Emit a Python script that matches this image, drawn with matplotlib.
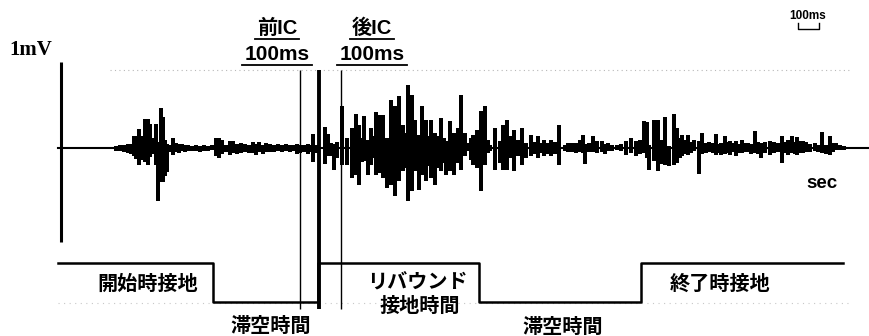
import numpy as np
import matplotlib
matplotlib.use("Agg")
import matplotlib.pyplot as plt

plt.rcParams['font.family'] = ['Liberation Sans', 'Noto Sans CJK JP', 'DejaVu Sans']

# EMG spikes: position, extent above baseline, extent below baseline (screen px)
spike_x = [102, 108, 116, 120, 124, 128, 131, 134, 136, 139, 142, 145, 148, 150, 153, 156, 158, 161, 163, 165,
           167, 170, 173, 176, 179, 182, 185, 188, 192, 196, 200, 204, 208, 212, 216, 219, 222, 226, 230, 233,
           237, 241, 245, 249, 253, 256, 259, 263, 266, 270, 274, 278, 282, 286, 290, 294, 297, 300, 304, 308,
           311, 313, 316, 325, 328, 331, 334, 337, 342, 347, 352, 356, 359, 362, 364, 368, 371, 374, 376, 380,
           383, 387, 391, 395, 399, 403, 406, 408, 412, 415, 419, 422, 426, 429, 431, 435, 438, 441, 444, 446,
           450, 454, 458, 461, 465, 468, 471, 473, 477, 481, 485, 488, 490, 495, 500, 503, 507, 510, 514, 518,
           522, 526, 531, 534, 538, 541, 544, 548, 551, 555, 559, 565, 568, 572, 576, 580, 583, 585, 589, 593,
           597, 602, 605, 608, 612, 617, 621, 626, 631, 636, 640, 644, 647, 649, 654, 658, 661, 663, 665, 669,
           674, 677, 680, 682, 685, 688, 691, 694, 699, 702, 706, 709, 713, 716, 719, 721, 725, 728, 730, 733,
           736, 739, 742, 745, 748, 751, 755, 758, 761, 765, 770, 774, 778, 782, 785, 788, 792, 795, 797, 800,
           803, 806, 810, 815, 818, 822, 826, 830, 833, 836, 840, 844]
spike_up = [1, 1, 2, 3, 3, 4, 4, 12, 12, 19, 12, 29, 29, 24, 10, 24, 6, 40, 31, 8,
            4, 3, 10, 5, 4, 4, 3, 3, 2, 3, 2, 3, 2, 3, 10, 10, 8, 3, 7, 7,
            4, 5, 4, 3, 6, 4, 6, 3, 5, 4, 3, 4, 3, 4, 3, 3, 4, 3, 3, 4,
            3, 14, 3, 21, 14, 5, 4, 6, 42, 10, 20, 34, 23, 10, 32, 8, 20, 12, 36, 33,
            33, 10, 48, 42, 52, 23, 15, 63, 53, 28, 13, 42, 28, 12, 28, 15, 12, 30, 10, 7,
            27, 15, 20, 53, 15, 5, 10, 13, 18, 37, 42, 8, 3, 20, 7, 23, 28, 12, 18, 8,
            20, 5, 13, 6, 12, 5, 8, 5, 8, 6, 23, 3, 5, 5, 5, 8, 13, 4, 5, 12,
            7, 7, 4, 5, 3, 3, 4, 7, 10, 7, 8, 27, 26, 3, 28, 28, 8, 1, 31, 2,
            34, 20, 10, 13, 8, 13, 6, 8, 7, 15, 5, 6, 5, 14, 4, 5, 12, 6, 7, 5,
            7, 4, 8, 5, 5, 4, 17, 6, 5, 6, 7, 6, 5, 12, 6, 8, 12, 6, 11, 7,
            7, 6, 4, 5, 3, 16, 3, 12, 5, 5, 3, 2]
spike_dn = [1, 1, 3, 3, 4, 5, 6, 8, 11, 17, 12, 14, 17, 9, 6, 17, 53, 34, 34, 28,
            24, 4, 7, 4, 5, 3, 4, 3, 3, 3, 4, 3, 3, 2, 8, 10, 6, 4, 7, 5,
            6, 5, 4, 5, 5, 7, 4, 6, 4, 4, 4, 3, 4, 3, 4, 3, 6, 5, 4, 6,
            4, 14, 5, 16, 8, 8, 22, 10, 17, 17, 30, 27, 37, 14, 13, 27, 17, 10, 27, 25,
            30, 40, 37, 48, 33, 23, 20, 53, 43, 23, 42, 27, 33, 18, 30, 37, 20, 23, 15, 27,
            23, 27, 15, 22, 8, 3, 12, 17, 20, 43, 17, 5, 3, 22, 15, 22, 22, 10, 23, 8,
            17, 10, 8, 6, 10, 5, 8, 6, 8, 6, 17, 3, 4, 4, 5, 4, 5, 16, 4, 4,
            5, 4, 6, 3, 3, 2, 3, 7, 5, 8, 6, 5, 10, 22, 13, 23, 16, 13, 17, 18,
            17, 15, 10, 8, 6, 7, 5, 3, 26, 6, 5, 4, 5, 7, 5, 7, 6, 5, 7, 4,
            8, 5, 5, 4, 4, 6, 5, 6, 10, 5, 7, 5, 4, 15, 5, 7, 5, 6, 7, 5,
            5, 4, 4, 3, 4, 5, 6, 7, 4, 2, 2, 2]

# foot switch: transition positions and contact state (1 = ground contact)
switch_x = [58, 213, 318, 479, 641, 843]
switch_state = [1, 0, 1, 0, 1, 1]

# event markers: pre-IC window start, initial contact, post-IC window end
marker_x = [300, 319, 341]
marker_lw = [1.0, 2.8, 1.0]

baseline = 148
high_y, low_y = 263, 302

fig = plt.figure(figsize=(8.7, 3.36), dpi=100)
ax = fig.add_axes([0, 0, 1, 1])
ax.set_xlim(0, 870)
ax.set_ylim(336, 0)
ax.axis('off')

# faint dotted guide lines
ax.plot([110, 852], [70, 70], color='#b8b8b8', lw=0.8, ls=(0, (1, 3)))
ax.plot([58, 852], [303, 303], color='#c8c8c8', lw=0.8, ls=(0, (1, 4)))

# EMG trace
ax.plot([58, 870], [baseline, baseline], color='black', lw=1.5)
sx = np.array(spike_x)
su = np.array(spike_up)
sd = np.array(spike_dn)
ax.bar(sx, su + sd, bottom=baseline - su, width=3.6, color='black', linewidth=0)

# 1 mV scale bar
ax.plot([61, 61], [62, 242], color='black', lw=2.2, solid_capstyle='butt')
ax.text(31, 50, '1mV', family='Liberation Serif', weight='bold', fontsize=15,
        ha='center', va='center')

# event lines
for mx, lw in zip(marker_x, marker_lw):
    ax.plot([mx, mx], [70, 309], color='black', lw=lw, solid_capstyle='butt')

# foot switch signal
sy = [high_y if s else low_y for s in switch_state]
ax.step(switch_x, sy, where='post', color='black', lw=1.8)

# labels
jp = dict(family=['Noto Sans CJK JP'], weight='bold', fontsize=14.5, ha='center', va='center')
ax.text(148, 283, '開始時接地', **jp)
ax.text(271, 325, '滞空時間', **jp)
ax.text(417, 282, 'リバウンド', **jp)
ax.text(420, 305, '接地時間', **jp)
ax.text(563, 326, '滞空時間', **jp)
ax.text(720, 283, '終了時接地', **jp)
ax.text(822, 184, 'sec', weight='bold', fontsize=13.5, ha='center', va='center')

head = []
for cx, name in [(277, '前IC'), (372, '後IC')]:
    head.append(ax.text(cx, 28, name, weight='bold', fontsize=14.5, ha='center', va='center'))
    head.append(ax.text(cx, 54, '100ms', weight='bold', fontsize=15, ha='center', va='center'))

# underline the window headings
fig.canvas.draw()
r = fig.canvas.get_renderer()
inv = ax.transData.inverted()
for t in head:
    bb = t.get_window_extent(r)
    (x0, y0), (x1, _) = inv.transform([[bb.x0, bb.y0], [bb.x1, bb.y1]])
    ax.plot([x0 - 2, x1 + 2], [y0 + 1, y0 + 1], color='black', lw=1.3)

# 100 ms time scale
ax.text(808, 16, '100ms', weight='bold', fontsize=8.5, ha='center', va='center')
ax.plot([798, 798, 819, 819], [23, 29, 29, 23], color='black', lw=1.0)

fig.savefig('out.png', dpi=100, facecolor='white')
